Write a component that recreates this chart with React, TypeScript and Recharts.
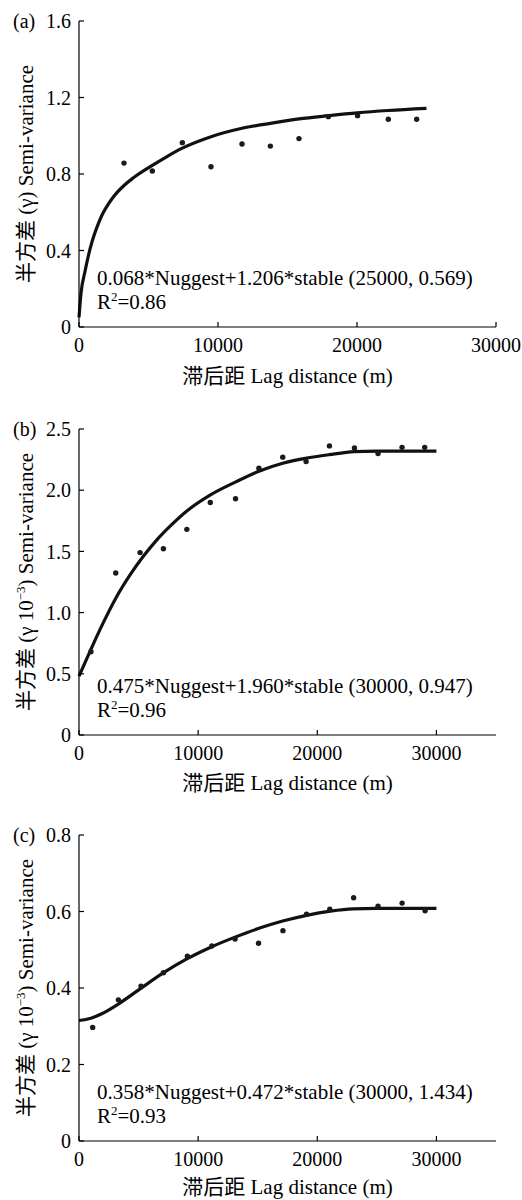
import React from 'react';
import { ComposedChart, Line, Scatter, XAxis, YAxis } from 'recharts';

const FONT = "'Liberation Serif','Times New Roman','Noto Sans CJK SC',serif";

// ---------- Panel (a) ----------
const curveLagA = [0, 150, 430, 800, 1500, 2470, 3240, 3910, 5275, 6300, 7430, 9500, 11730, 13770, 15830, 17940, 20020, 22250, 25000];
const curveGammaA = [0.05, 0.18, 0.29, 0.41, 0.56, 0.68, 0.74, 0.78, 0.845, 0.89, 0.935, 0.995, 1.039, 1.065, 1.088, 1.105, 1.12, 1.132, 1.143];
const obsLagA = [3237, 5275, 7434, 9496, 11727, 13765, 15827, 17938, 20040, 22252, 24292];
const obsGammaA = [0.857, 0.816, 0.964, 0.838, 0.957, 0.946, 0.985, 1.1, 1.105, 1.086, 1.086];

// ---------- Panel (b) ----------
const curveLagB = [0, 1000, 2000, 3100, 4300, 5400, 6500, 7800, 9050, 11000, 13200, 15100, 17100, 19000, 21000, 23100, 25000, 30000];
const curveGammaB = [0.48, 0.7, 0.91, 1.12, 1.31, 1.46, 1.59, 1.72, 1.83, 1.96, 2.07, 2.155, 2.22, 2.26, 2.29, 2.315, 2.32, 2.32];
const obsLagB = [1000, 3084, 5126, 7084, 9050, 11020, 13140, 15100, 17100, 19060, 21020, 23120, 25100, 27115, 29017];
const obsGammaB = [0.68, 1.324, 1.49, 1.522, 1.68, 1.9, 1.93, 2.18, 2.27, 2.235, 2.362, 2.345, 2.3, 2.35, 2.35];

// ---------- Panel (c) ----------
const curveLagC = [0, 1000, 2000, 3300, 5100, 7100, 9050, 11150, 13100, 15100, 17100, 19100, 21100, 23000, 25000, 30000];
const curveGammaC = [0.315, 0.321, 0.334, 0.358, 0.397, 0.44, 0.476, 0.508, 0.533, 0.556, 0.575, 0.59, 0.601, 0.607, 0.608, 0.608];
const obsLagC = [1148, 3305, 5200, 7084, 9100, 11150, 13100, 15070, 17118, 19100, 21050, 23050, 25100, 27118, 29050];
const obsGammaC = [0.297, 0.369, 0.405, 0.44, 0.483, 0.51, 0.528, 0.517, 0.55, 0.593, 0.606, 0.636, 0.614, 0.622, 0.602];

// ---------- Axes / text ----------
const xTicksA = [0, 10000, 20000, 30000];
const xTicksBC = [0, 10000, 20000, 30000];
const yTicksA = [0, 0.4, 0.8, 1.2, 1.6];
const yTicksB = [0, 0.5, 1.0, 1.5, 2.0, 2.5];
const yTicksC = [0, 0.2, 0.4, 0.6, 0.8];
const panelLetters = ['(a)', '(b)', '(c)'];
const equations = [
  '0.068*Nuggest+1.206*stable (25000, 0.569)',
  '0.475*Nuggest+1.960*stable (30000, 0.947)',
  '0.358*Nuggest+0.472*stable (30000, 1.434)',
];
const r2Values = ['0.86', '0.96', '0.93'];
const xAxisTitle = '滞后距 Lag distance (m)';

const zip = (xs: number[], ys: number[]) => xs.map((x, i) => ({ x, y: ys[i] }));

const Dot = (props: any) => <circle cx={props.cx} cy={props.cy} r={2.7} fill="#1a1a1a" />;

const fmtY = (v: number) => (v === 0 ? '0' : v.toFixed(1));

type PanelProps = {
  curve: { x: number; y: number }[];
  points: { x: number; y: number }[];
  xDomain: [number, number];
  xTicks: number[];
  yDomain: [number, number];
  yTicks: number[];
  letter: string;
  scaled: boolean;
  equation: string;
  r2: string;
  top: number;
  mTop: number;
  mBottom: number;
  titleGap: number;
};

function Panel(p: PanelProps) {
  const yLabel = (props: any) => {
    const vb = props.viewBox;
    const cx = vb.x + 4;
    const cy = vb.y + vb.height / 2;
    return (
      <g>
        <text x={vb.x - 16} y={vb.y + 7} fontSize={20} fontFamily={FONT} fill="#000">
          {p.letter}
        </text>
        <text
          x={cx}
          y={cy}
          transform={`rotate(-90 ${cx} ${cy})`}
          textAnchor="middle"
          fontSize={21}
          fontFamily={FONT}
          fill="#000"
        >
          {p.scaled ? (
            <>
              <tspan>半方差 (γ 10</tspan>
              <tspan fontSize={13} dy={-8}>−3</tspan>
              <tspan dy={8}>) Semi-variance</tspan>
            </>
          ) : (
            <tspan>半方差 (γ) Semi-variance</tspan>
          )}
        </text>
      </g>
    );
  };

  const xLabel = (props: any) => {
    const vb = props.viewBox;
    return (
      <g fontFamily={FONT} fill="#000">
        <text x={vb.x + vb.width / 2} y={vb.y + p.titleGap} textAnchor="middle" fontSize={21}>
          {xAxisTitle}
        </text>
        <text x={vb.x + 18} y={vb.y - 42} fontSize={21}>
          {p.equation}
        </text>
        <text x={vb.x + 18} y={vb.y - 18} fontSize={21}>
          <tspan>R</tspan>
          <tspan fontSize={13} dy={-8}>2</tspan>
          <tspan dy={8}>={p.r2}</tspan>
        </text>
      </g>
    );
  };

  return (
    <div style={{ position: 'absolute', left: 0, top: p.top }}>
      <ComposedChart
        width={522}
        height={400}
        margin={{ top: p.mTop, right: 26, bottom: p.mBottom, left: 29 }}
      >
        <XAxis
          type="number"
          dataKey="x"
          domain={p.xDomain}
          ticks={p.xTicks}
          interval={0}
          height={30}
          tickSize={-5}
          tickMargin={16}
          axisLine={{ stroke: '#000', strokeWidth: 1.2 }}
          tickLine={{ stroke: '#000', strokeWidth: 1.2 }}
          tick={{ fill: '#000', fontSize: 20, fontFamily: FONT }}
          label={xLabel}
        />
        <YAxis
          type="number"
          dataKey="y"
          domain={p.yDomain}
          ticks={p.yTicks}
          interval={0}
          width={50}
          tickSize={-5}
          tickMargin={13}
          tickFormatter={fmtY}
          axisLine={{ stroke: '#000', strokeWidth: 1.2 }}
          tickLine={{ stroke: '#000', strokeWidth: 1.2 }}
          tick={{ fill: '#000', fontSize: 20, fontFamily: FONT }}
          label={yLabel}
        />
        <Line
          data={p.curve}
          dataKey="y"
          type="monotone"
          stroke="#111"
          strokeWidth={3.2}
          dot={false}
          activeDot={false}
          isAnimationActive={false}
        />
        <Scatter data={p.points} dataKey="y" shape={Dot} isAnimationActive={false} />
      </ComposedChart>
    </div>
  );
}

export default function App() {
  return (
    <div style={{ position: 'absolute', left: 0, top: 0, width: 522, height: 1200, background: '#fff' }}>
      <Panel
        curve={zip(curveLagA, curveGammaA)}
        points={zip(obsLagA, obsGammaA)}
        xDomain={[0, 30000]}
        xTicks={xTicksA}
        yDomain={[0, 1.6]}
        yTicks={yTicksA}
        letter={panelLetters[0]}
        scaled={false}
        equation={equations[0]}
        r2={r2Values[0]}
        top={0}
        mTop={21}
        mBottom={43}
        titleGap={56}
      />
      <Panel
        curve={zip(curveLagB, curveGammaB)}
        points={zip(obsLagB, obsGammaB)}
        xDomain={[0, 35000]}
        xTicks={xTicksBC}
        yDomain={[0, 2.5]}
        yTicks={yTicksB}
        letter={panelLetters[1]}
        scaled={true}
        equation={equations[1]}
        r2={r2Values[1]}
        top={400}
        mTop={29}
        mBottom={35}
        titleGap={55}
      />
      <Panel
        curve={zip(curveLagC, curveGammaC)}
        points={zip(obsLagC, obsGammaC)}
        xDomain={[0, 35000]}
        xTicks={xTicksBC}
        yDomain={[0, 0.8]}
        yTicks={yTicksC}
        letter={panelLetters[2]}
        scaled={true}
        equation={equations[2]}
        r2={r2Values[2]}
        top={800}
        mTop={35}
        mBottom={29}
        titleGap={53}
      />
    </div>
  );
}
